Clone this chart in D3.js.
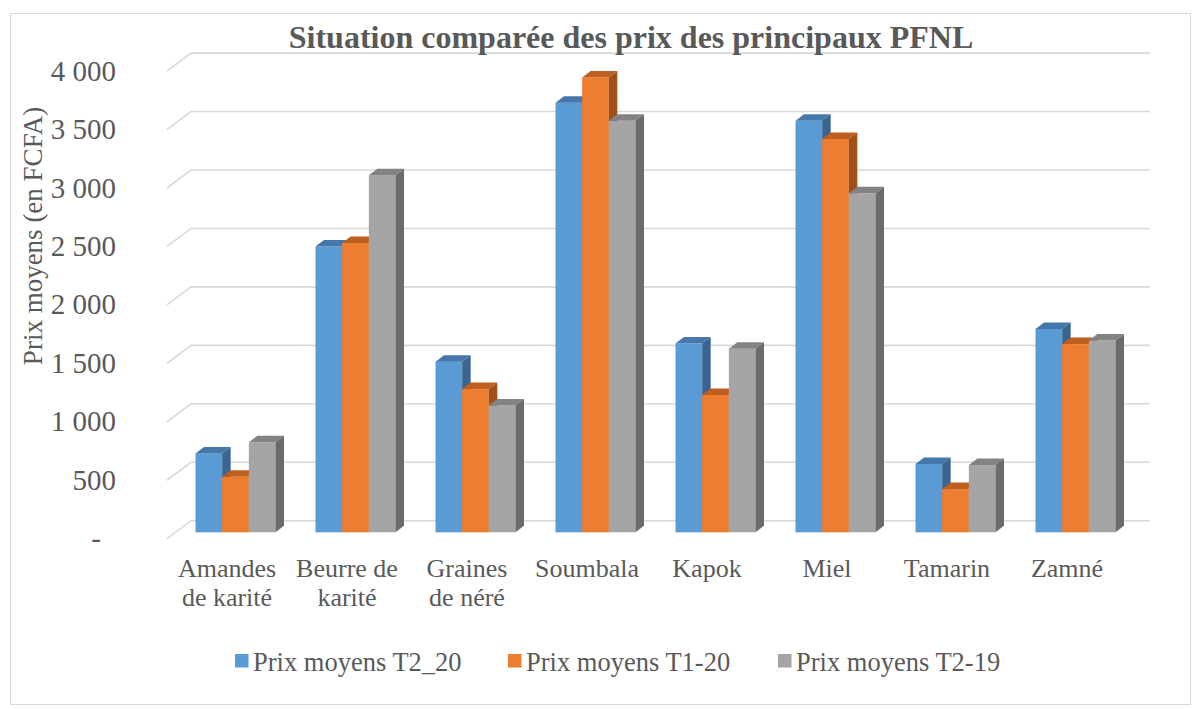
<!DOCTYPE html>
<html>
<head>
<meta charset="utf-8">
<script src="https://cdn.jsdelivr.net/npm/d3@7"></script>
<style>
  body { margin: 0; background: #fff; }
  svg text { font-family: 'Liberation Serif', serif; fill: #595959; }
</style>
</head>
<body>
<div id="container"></div>
<script>
// data
const categories = ['Amandes de karité', 'Beurre de karité', 'Graines de néré', 'Soumbala', 'Kapok', 'Miel', 'Tamarin', 'Zamné'];
const categoryLines = [['Amandes', 'de karité'], ['Beurre de', 'karité'], ['Graines', 'de néré'], ['Soumbala'], ['Kapok'], ['Miel'], ['Tamarin'], ['Zamné']];
const seriesNames = ['Prix moyens T2_20', 'Prix moyens T1-20', 'Prix moyens T2-19'];
const prixT2_20 = [675, 2445, 1460, 3675, 1615, 3520, 585, 1740];
const prixT1_20 = [475, 2475, 1225, 3890, 1175, 3365, 370, 1610];
const prixT2_19 = [770, 3055, 1085, 3520, 1570, 2900, 575, 1640];
const yTicks = [0, 500, 1000, 1500, 2000, 2500, 3000, 3500, 4000];

const seriesValues = [prixT2_20, prixT1_20, prixT2_19];
const colors = [
  {front: '#5b9bd5', top: '#4677ab', side: '#3a6590'},
  {front: '#ed7d31', top: '#bf5f1f', side: '#a0501b'},
  {front: '#a5a5a5', top: '#838383', side: '#6b6b6b'}
];
const serif = "'Liberation Serif', 'Times New Roman', serif";

const width = 1200, height = 709;
const svg = d3.select('#container').append('svg')
  .attr('width', width)
  .attr('height', height)
  .attr('font-family', serif);

// chart border
svg.append('rect')
  .attr('x', 10.5).attr('y', 13.5)
  .attr('width', 1180).attr('height', 691)
  .attr('fill', 'none')
  .attr('stroke', '#d9d9d9');

// 3d-ish geometry: front plane of floor and the depth offset
const depthX = 24, depthY = -18;
const barOffX = 8.5, barOffY = -6.4;   // bars sit a bit inside the floor
const barDX = 8.5, barDY = -6.5;       // depth of each bar

const x = d3.scaleBand()
  .domain(categories)
  .range([167, 1127])
  .paddingInner(1 / 3)
  .paddingOuter(1 / 6);

const xs = d3.scaleBand()
  .domain(d3.range(seriesNames.length))
  .range([0, x.bandwidth()]);

const y = d3.scaleLinear().domain([0, 4000]).range([538.7, 71.1]);

// gridlines (left wall edge + back wall line)
const grid = svg.append('g').attr('class', 'grid');
yTicks.forEach(t => {
  grid.append('path')
    .attr('d', `M167,${y(t)} L${167 + depthX},${y(t) + depthY} L1150,${y(t) + depthY}`)
    .attr('fill', 'none')
    .attr('stroke', '#d9d9d9')
    .attr('stroke-width', 1.6);
});

// y tick labels
const fr = d3.formatLocale({decimal: ',', thousands: ' ', grouping: [3], currency: ['', '']});
const fmt = fr.format(',');
svg.append('g').selectAll('text')
  .data(yTicks)
  .join('text')
  .attr('x', d => d === 0 ? 101 : 116)
  .attr('y', d => y(d) + 9.5)
  .attr('text-anchor', 'end')
  .attr('font-family', serif)
  .attr('font-size', 29)
  .text(d => d === 0 ? '-' : fmt(d));

// y axis title
svg.append('text')
  .attr('transform', 'translate(42,236) rotate(-90)')
  .attr('text-anchor', 'middle')
  .attr('font-family', serif)
  .attr('font-size', 27)
  .text('Prix moyens (en FCFA)');

// bars
const bars = svg.append('g').attr('class', 'bars');
categories.forEach((c, i) => {
  seriesValues.forEach((vals, s) => {
    const v = vals[i];
    const bx = x(c) + xs(s) + barOffX;
    const bw = xs.bandwidth();
    const yt = y(v) + barOffY;
    const yb = y(0) + barOffY;
    const g = bars.append('g');
    g.append('rect')
      .attr('x', bx).attr('y', yt)
      .attr('width', bw).attr('height', yb - yt)
      .attr('fill', colors[s].front);
    g.append('path')
      .attr('d', `M${bx},${yt} L${bx + bw},${yt} L${bx + bw + barDX},${yt + barDY} L${bx + barDX},${yt + barDY} Z`)
      .attr('fill', colors[s].top);
    g.append('path')
      .attr('d', `M${bx + bw},${yt} L${bx + bw + barDX},${yt + barDY} L${bx + bw + barDX},${yb + barDY} L${bx + bw},${yb} Z`)
      .attr('fill', colors[s].side);
  });
});

// category labels
const xl = svg.append('g').attr('class', 'x-labels');
categories.forEach((c, i) => {
  const t = xl.append('text')
    .attr('text-anchor', 'middle')
    .attr('font-family', serif)
    .attr('font-size', 26);
  categoryLines[i].forEach((line, k) => {
    t.append('tspan')
      .attr('x', x(c) + x.bandwidth() / 2)
      .attr('y', 577 + k * 29)
      .text(line);
  });
});

// title
svg.append('text')
  .attr('x', 631)
  .attr('y', 48)
  .attr('text-anchor', 'middle')
  .attr('font-family', serif)
  .attr('font-size', 32)
  .attr('font-weight', 'bold')
  .text('Situation comparée des prix des principaux PFNL');

// legend
const legendX = [235, 508, 778];
const legend = svg.append('g').attr('class', 'legend');
seriesNames.forEach((name, s) => {
  legend.append('rect')
    .attr('x', legendX[s]).attr('y', 654)
    .attr('width', 13.5).attr('height', 13.5)
    .attr('fill', colors[s].front);
  legend.append('text')
    .attr('x', legendX[s] + 18)
    .attr('y', 670.5)
    .attr('font-family', serif)
    .attr('font-size', 26.5)
    .text(name);
});
</script>
</body>
</html>
